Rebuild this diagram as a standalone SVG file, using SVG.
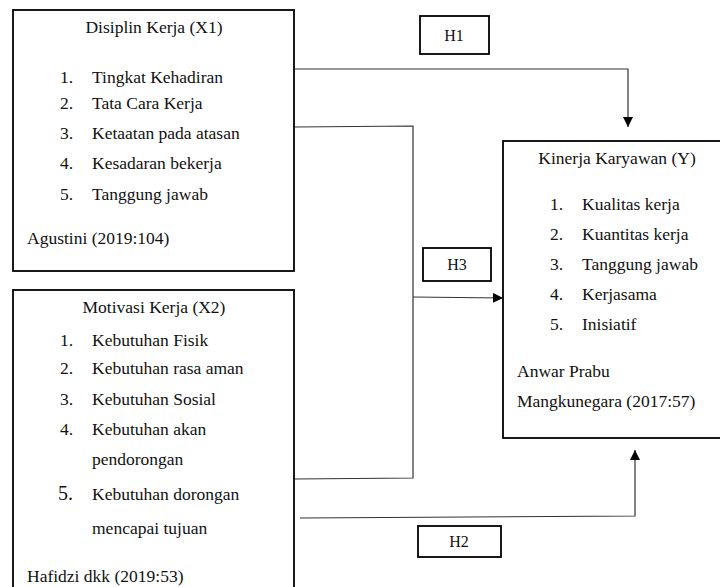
<svg xmlns="http://www.w3.org/2000/svg" width="720" height="587" viewBox="0 0 720 587" font-family="'Liberation Serif', 'DejaVu Serif', serif">
<style>
.box{fill:#fff;stroke:#000;stroke-width:1.8}
.hbox{fill:#fff;stroke:#000;stroke-width:1.8}
.ln{fill:none;stroke:#333;stroke-width:1.2}
text{font-family:'Liberation Serif','DejaVu Serif',serif;font-size:17.5px;fill:#111}
.c{text-anchor:middle}
.h{font-size:16px}
</style>
<defs>
<marker id="arr" viewBox="0 0 10 10" refX="10" refY="5" markerWidth="10" markerHeight="10" markerUnits="userSpaceOnUse" orient="auto">
<path d="M0,0 L10,5 L0,10 Z" fill="#000"/>
</marker>
</defs>
<rect width="720" height="587" fill="#fff"/>
<g id="connectors">
<polyline class="ln" points="295,69 628,69 628,127" marker-end="url(#arr)"/>
<polyline class="ln" points="295,127 413,126 413,478 294,479"/>
<line class="ln" x1="413" y1="297" x2="503" y2="298" marker-end="url(#arr)"/>
<polyline class="ln" points="300,518 635,516 635,450" marker-end="url(#arr)"/>
</g>
<g id="x1">
<rect class="box" x="13" y="10" width="281" height="261"/>
<text class="c" x="154" y="33">Disiplin Kerja (X1)</text>
<text x="60" y="83">1.</text><text x="92" y="83">Tingkat Kehadiran</text>
<text x="60" y="109">2.</text><text x="92" y="109">Tata Cara Kerja</text>
<text x="60" y="139">3.</text><text x="92" y="139">Ketaatan pada atasan</text>
<text x="60" y="169">4.</text><text x="92" y="169">Kesadaran bekerja</text>
<text x="60" y="200">5.</text><text x="92" y="200">Tanggung jawab</text>
<text x="27" y="244">Agustini (2019:104)</text>
</g>
<g id="x2">
<rect class="box" x="13" y="290" width="281" height="310"/>
<text class="c" x="154" y="313">Motivasi Kerja (X2)</text>
<text x="60" y="346">1.</text><text x="92" y="346">Kebutuhan Fisik</text>
<text x="60" y="374">2.</text><text x="92" y="374">Kebutuhan rasa aman</text>
<text x="60" y="405">3.</text><text x="92" y="405">Kebutuhan Sosial</text>
<text x="60" y="435">4.</text><text x="92" y="435">Kebutuhan akan</text>
<text x="92" y="465">pendorongan</text>
<text x="58" y="500" style="font-size:20px">5.</text><text x="92" y="500">Kebutuhan dorongan</text>
<text x="92" y="534">mencapai tujuan</text>
<text x="27" y="582">Hafidzi dkk (2019:53)</text>
</g>
<g id="y">
<rect class="box" x="503" y="141" width="230" height="297"/>
<text class="c" x="617" y="164">Kinerja Karyawan (Y)</text>
<text x="550" y="210">1.</text><text x="582" y="210">Kualitas kerja</text>
<text x="550" y="240">2.</text><text x="582" y="240">Kuantitas kerja</text>
<text x="550" y="270">3.</text><text x="582" y="270">Tanggung jawab</text>
<text x="550" y="300">4.</text><text x="582" y="300">Kerjasama</text>
<text x="550" y="330">5.</text><text x="582" y="330">Inisiatif</text>
<text x="517" y="377">Anwar Prabu</text>
<text x="517" y="407">Mangkunegara (2017:57)</text>
</g>
<g id="h1">
<rect class="hbox" x="420" y="16" width="69" height="38"/>
<text class="c h" x="454" y="41">H1</text>
</g>
<g id="h3">
<rect class="hbox" x="423" y="248" width="68" height="33"/>
<text class="c h" x="457" y="270">H3</text>
</g>
<g id="h2">
<rect class="hbox" x="418" y="526" width="83" height="31"/>
<text class="c h" x="459" y="547">H2</text>
</g>
</svg>
